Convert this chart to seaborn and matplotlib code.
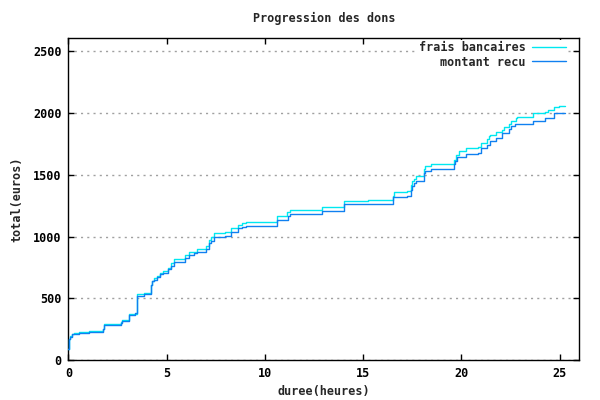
import pandas as pd
import matplotlib
matplotlib.use('Agg')
import matplotlib.pyplot as plt
import seaborn as sns

# --- donnees (heures, total cumule en euros) ---
heures_recu = [0.0, 0.02, 0.1, 0.17, 0.3, 0.56, 1.05, 1.75, 1.82, 2.66, 2.75, 3.1, 3.4, 3.48,
               3.87, 4.19, 4.25, 4.36, 4.5, 4.67, 4.79, 5.09, 5.2, 5.35, 5.94, 6.16, 6.41, 6.53,
               6.99, 7.18, 7.27, 7.43, 7.98, 8.27, 8.62, 8.83, 9.05, 10.6, 11.2, 11.29, 12.93,
               14.05, 15.24, 16.5, 16.6, 17.23, 17.43, 17.48, 17.6, 17.69, 18.09, 18.15, 18.45,
               19.6, 19.68, 19.8, 20.23, 20.84, 20.98, 21.3, 21.47, 21.76, 22.06, 22.44, 22.54,
               22.74, 23.63, 24.27, 24.7, 25.29]
total_recu = [90, 170, 190, 210, 216, 223, 233, 250, 282, 301, 315, 363, 381, 524,
              537, 605, 640, 650, 672, 694, 707, 739, 766, 793, 828, 855, 865, 879,
              901, 949, 968, 1000, 1008, 1035, 1067, 1081, 1089, 1134, 1169, 1185, 1207,
              1261, 1266, 1317, 1323, 1331, 1376, 1411, 1435, 1449, 1510, 1527, 1546,
              1586, 1613, 1642, 1667, 1677, 1714, 1737, 1768, 1795, 1833, 1870, 1890,
              1908, 1935, 1957, 1997, 1997]

heures_frais = [0.0, 0.02, 0.1, 0.17, 0.3, 0.56, 1.05, 1.75, 1.82, 2.66, 2.75, 3.1, 3.48,
                3.87, 4.19, 4.25, 4.36, 4.5, 4.67, 4.79, 5.09, 5.2, 5.35, 5.94, 6.16, 6.53,
                6.99, 7.18, 7.27, 7.43, 7.98, 8.27, 8.62, 8.83, 9.05, 10.6, 11.15, 11.29,
                12.93, 14.05, 15.24, 16.5, 16.58, 17.23, 17.43, 17.48, 17.6, 17.69, 18.09,
                18.15, 18.45, 19.62, 19.72, 19.86, 20.23, 20.84, 20.98, 21.3, 21.38, 21.47,
                21.76, 22.06, 22.15, 22.44, 22.54, 22.78, 22.83, 23.63, 24.27, 24.41, 24.69,
                24.98, 25.29]
total_frais = [95, 175, 195, 215, 220, 228, 238, 255, 290, 309, 327, 371, 538,
               546, 610, 645, 667, 680, 704, 718, 747, 785, 815, 852, 874, 901,
               922, 973, 995, 1030, 1035, 1070, 1094, 1110, 1118, 1169, 1202, 1215,
               1237, 1288, 1296, 1328, 1360, 1368, 1414, 1452, 1465, 1489, 1546,
               1567, 1586, 1618, 1661, 1691, 1715, 1720, 1755, 1785, 1809, 1820,
               1841, 1863, 1887, 1906, 1935, 1954, 1962, 1997, 2008, 2024, 2048,
               2056, 2056]

df_frais = pd.DataFrame({'heures': heures_frais, 'total': total_frais})
df_recu = pd.DataFrame({'heures': heures_recu, 'total': total_recu})

sns.set_style('white')
plt.rcParams['font.family'] = ['DejaVu Sans Mono']
plt.rcParams['font.weight'] = 'bold'
plt.rcParams['font.size'] = 8.5

fig = plt.figure(figsize=(6, 4), dpi=100)
ax = fig.add_axes([0.114, 0.099, 0.8515, 0.805])

sns.lineplot(data=df_frais, x='heures', y='total', ax=ax, color='#00e8f0', lw=1.0,
             drawstyle='steps-post', estimator=None, label='frais bancaires', zorder=3)
sns.lineplot(data=df_recu, x='heures', y='total', ax=ax, color='#1080f0', lw=1.0,
             drawstyle='steps-post', estimator=None, label='montant recu', zorder=4)

ax.set_xlim(0, 26)
ax.set_ylim(0, 2600)
ax.set_xticks([0, 5, 10, 15, 20, 25])
ax.set_yticks([0, 500, 1000, 1500, 2000, 2500])
ax.grid(axis='y', color='#a0a0a0', linestyle=(0, (1.5, 3)), lw=1.0)
ax.grid(axis='x', visible=False)
for s in ax.spines.values():
    s.set_color('black')
    s.set_linewidth(1.0)
ax.tick_params(direction='in', length=4, width=1, top=True, right=True,
               bottom=True, left=True, colors='black', labelsize=8.5, pad=5)

ax.set_title('Progression des dons', fontsize=8.5, fontweight='bold', pad=12)
ax.set_xlabel('duree(heures)', fontsize=8.5, fontweight='bold', labelpad=3)
ax.set_ylabel('total(euros)', fontsize=8.5, fontweight='bold', labelpad=7)

leg = ax.legend(loc='upper right', bbox_to_anchor=(0.976, 0.995), markerfirst=False,
                handlelength=2.9, handletextpad=0.5, labelspacing=0.12,
                frameon=True, fancybox=False, framealpha=1, borderpad=0.1,
                borderaxespad=0,
                prop={'family': 'DejaVu Sans Mono', 'weight': 'bold', 'size': 8.5})
leg.get_frame().set_edgecolor('none')
leg.get_frame().set_facecolor('white')
leg._legend_box.align = 'right'

fig.savefig('out.png', dpi=100)
